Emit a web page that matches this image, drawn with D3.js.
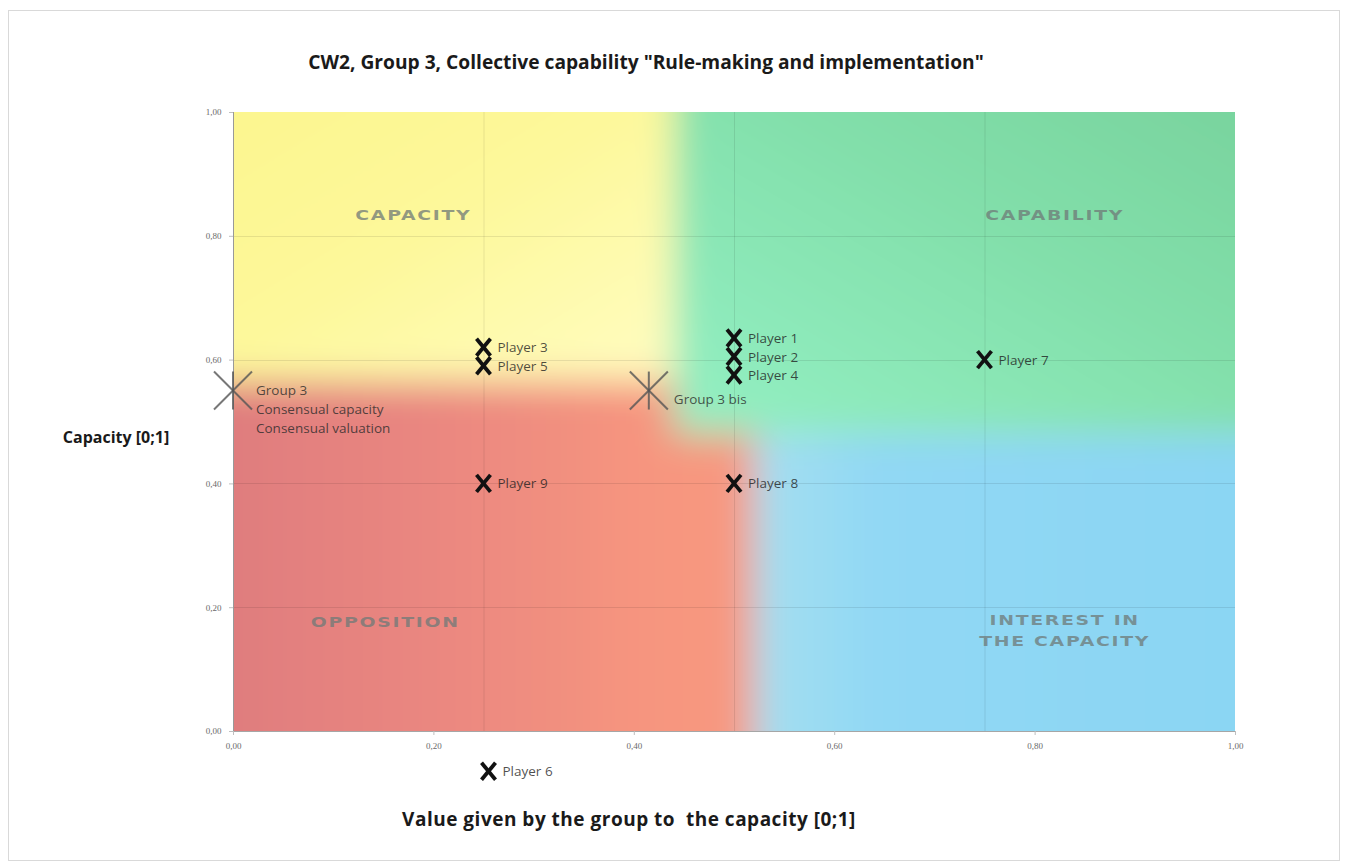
<!DOCTYPE html>
<html><head><meta charset="utf-8">
<script src="https://cdn.jsdelivr.net/npm/d3@7"></script>
<style>
html,body{margin:0;padding:0;background:#fff;}
svg{display:block;}
text{white-space:pre;}
</style></head>
<body>
<svg id="chart" width="1349" height="868"></svg>
<script>
// ---------- data ----------
const title = 'CW2, Group 3, Collective capability "Rule-making and implementation"';
const xAxisTitle = "Value given by the group to  the capacity [0;1]";
const yAxisTitle = "Capacity [0;1]";
const xTicks = [0, 0.2, 0.4, 0.6, 0.8, 1.0];
const yTicks = [0, 0.2, 0.4, 0.6, 0.8, 1.0];
const xGrid = [0.25, 0.5, 0.75];
const yGrid = [0.2, 0.4, 0.6, 0.8];

const playerNames = ["Player 1","Player 2","Player 3","Player 4","Player 5","Player 6","Player 7","Player 8","Player 9"];
const playerX = [0.50, 0.50, 0.25, 0.50, 0.25, 0.255, 0.75, 0.50, 0.25];
const playerY = [0.635, 0.605, 0.62, 0.575, 0.59, -0.065, 0.60, 0.40, 0.40];

const groupNames = ["Group 3", "Group 3 bis"];
const groupX = [0.0, 0.415];
const groupY = [0.55, 0.55];
const groupLabelLines = [["Group 3","Consensual capacity","Consensual valuation"], ["Group 3 bis"]];

const zoneNames = [["CAPACITY"], ["CAPABILITY"], ["OPPOSITION"], ["INTEREST IN","THE CAPACITY"]];
const zoneX = [0.18, 0.82, 0.152, 0.83];
const zoneY = [0.826, 0.826, 0.168, 0.172];

// ---------- layout ----------
const svg = d3.select("#chart");
const W = 1349, H = 868;
const x = d3.scaleLinear().domain([0,1]).range([233,1235]);
const y = d3.scaleLinear().domain([0,1]).range([731,112]);

svg.append("rect").attr("x",8.5).attr("y",10.5).attr("width",1331).attr("height",850)
  .attr("fill","#fff").attr("stroke","#d9d9d9");

const defs = svg.append("defs");
defs.append("clipPath").attr("id","plotclip").append("rect")
  .attr("x",x(0)).attr("y",y(1)).attr("width",x(1)-x(0)).attr("height",y(0)-y(1));
const f = defs.append("filter").attr("id","blur").attr("filterUnits","userSpaceOnUse")
  .attr("x",0).attr("y",0).attr("width",W).attr("height",H);
f.append("feGaussianBlur").attr("stdDeviation",18);

function lg(id, x1,y1,x2,y2, stops){
  const g = defs.append("linearGradient").attr("id",id)
    .attr("x1",x1).attr("y1",y1).attr("x2",x2).attr("y2",y2);
  stops.forEach(s=>g.append("stop").attr("offset",s[0]).attr("stop-color",s[1]));
}
lg("gRed","0","0","1","0",[[0,"#d9777d"],[0.5,"#ea8780"],[0.85,"#f7967f"],[1,"#f79880"]]);
lg("gYel","0","0","1","1",[[0,"#fcf588"],[0.55,"#fdf89a"],[1,"#fffcc2"]]);
lg("gGrn","1","0","0","1",[[0,"#74ce98"],[0.5,"#82dfaa"],[1,"#94f0c4"]]);
lg("gBlu","0","0","1","0",[[0,"#a6dff0"],[0.2,"#91d8f4"],[1,"#89d5f3"]]);

const bg = svg.append("g").attr("clip-path","url(#plotclip)");
const bgb = bg.append("g").attr("filter","url(#blur)");
const ext = 0.12;
function zone(x0,x1,y0,y1,fill){
  bgb.append("rect").attr("x",x(x0)).attr("y",y(y1)).attr("width",x(x1)-x(x0)).attr("height",y(y0)-y(y1)).attr("fill",fill);
}
zone(-ext,0.52,-ext,0.565,"url(#gRed)");
zone(0.52,1+ext,-ext,0.48,"url(#gBlu)");
zone(0.44,1+ext,0.48,1+ext,"url(#gGrn)");
zone(-ext,0.44,0.565,1+ext,"url(#gYel)");

// grid lines
bg.selectAll(".gx").data(xGrid).join("line").attr("x1",d=>x(d)+0.5).attr("x2",d=>x(d)+0.5)
  .attr("y1",y(1)).attr("y2",y(0)).attr("stroke","#000").attr("stroke-opacity",0.09);
bg.selectAll(".gy").data(yGrid).join("line").attr("y1",d=>Math.round(y(d))+0.5).attr("y2",d=>Math.round(y(d))+0.5)
  .attr("x1",x(0)).attr("x2",x(1)).attr("stroke","#000").attr("stroke-opacity",0.09);

// zone labels (wide, embossed-looking caps)
zoneNames.forEach((lines,i)=>{
  const cx = x(zoneX[i]), cy = y(zoneY[i]);
  const g = svg.append("g").attr("transform",`translate(${cx},${cy}) scale(1.4,1)`);
  const t = g.append("text").attr("x",0).attr("y",0)
    .attr("text-anchor","middle").attr("font-family","'DejaVu Sans', sans-serif")
    .attr("font-weight","bold").attr("font-size",13.5).attr("letter-spacing",1.2)
    .attr("fill","#6f7a78").attr("fill-opacity",0.75);
  lines.forEach((l,j)=>t.append("tspan").attr("x",0).attr("dy", j===0?0:21).text(l));
});

// axes
svg.append("line").attr("x1",x(0)+0.5).attr("x2",x(0)+0.5).attr("y1",y(1)).attr("y2",y(0)).attr("stroke","#999");
svg.append("line").attr("x1",x(0)).attr("x2",x(1)).attr("y1",y(0)+0.5).attr("y2",y(0)+0.5).attr("stroke","#a6a6a6");
const fmt = d=>d3.format(".2f")(d).replace(".",",");
const xa = d3.axisBottom(x).tickValues(xTicks).tickSize(4).tickFormat(fmt);
const ya = d3.axisLeft(y).tickValues(yTicks).tickSize(4).tickFormat(fmt);
const gxa = svg.append("g").attr("transform",`translate(0,${y(0)})`).call(xa);
const gya = svg.append("g").attr("transform",`translate(${x(0)},0)`).call(ya);
[gxa,gya].forEach(g=>{
  g.select(".domain").remove();
  g.selectAll(".tick line").attr("stroke","#bfbfbf");
  g.selectAll("text").attr("font-family","'Liberation Serif', serif").attr("font-size",9).attr("fill","#6a6a6a");
});
gxa.selectAll("text").attr("dy","1.2em");
gya.selectAll("text").attr("dx","-0.5em");

// group markers (star)
const gm = svg.append("g");
groupNames.forEach((n,i)=>{
  const cx = x(groupX[i]), cy = y(groupY[i]), r=19;
  const g = gm.append("g").attr("stroke","#555").attr("stroke-width",2).attr("stroke-opacity",0.8);
  g.append("line").attr("x1",cx-r).attr("y1",cy-r).attr("x2",cx+r).attr("y2",cy+r);
  g.append("line").attr("x1",cx-r).attr("y1",cy+r).attr("x2",cx+r).attr("y2",cy-r);
  g.append("line").attr("x1",cx).attr("y1",cy-r).attr("x2",cx).attr("y2",cy+r);
  const lx = cx + (i===0?23:25);
  const t = gm.append("text").attr("x",lx).attr("y",cy+ (i===0?4:13))
    .attr("font-family","'Open Sans', sans-serif").attr("font-size",13.5)
    .attr("fill","#2a2a2a").attr("fill-opacity",0.8);
  groupLabelLines[i].forEach((l,j)=>t.append("tspan").attr("x",lx).attr("dy",j===0?0:19).text(l));
});

// player markers (bold X)
const pm = svg.append("g");
playerNames.forEach((n,i)=>{
  const cx = x(playerX[i]), cy = y(playerY[i]), rx=7, ry=8.5;
  const g = pm.append("g").attr("stroke","#111").attr("stroke-width",3.8).attr("stroke-linecap","butt");
  g.append("line").attr("x1",cx-rx).attr("y1",cy-ry).attr("x2",cx+rx).attr("y2",cy+ry);
  g.append("line").attr("x1",cx-rx).attr("y1",cy+ry).attr("x2",cx+rx).attr("y2",cy-ry);
  pm.append("text").attr("x",cx+14).attr("y",cy+5)
    .attr("font-family","'Open Sans', sans-serif").attr("font-size",13.5)
    .attr("fill","#1e1e1e").attr("fill-opacity",0.8).text(n);
});

// titles
svg.append("text").attr("x",646).attr("y",69).attr("text-anchor","middle")
  .attr("font-family","'Open Sans', sans-serif").attr("font-weight","bold").attr("font-size",19.2)
  .attr("fill","#1a1a1a").text(title);
svg.append("text").attr("x",629).attr("y",826).attr("text-anchor","middle")
  .attr("font-family","'Open Sans', sans-serif").attr("font-weight","bold").attr("font-size",19)
  .attr("letter-spacing",0.5).attr("fill","#1a1a1a").text(xAxisTitle);
svg.append("text").attr("x",116).attr("y",443).attr("text-anchor","middle")
  .attr("font-family","'Open Sans', sans-serif").attr("font-weight","bold").attr("font-size",16)
  .attr("fill","#1a1a1a").text(yAxisTitle);
</script>
</body></html>
